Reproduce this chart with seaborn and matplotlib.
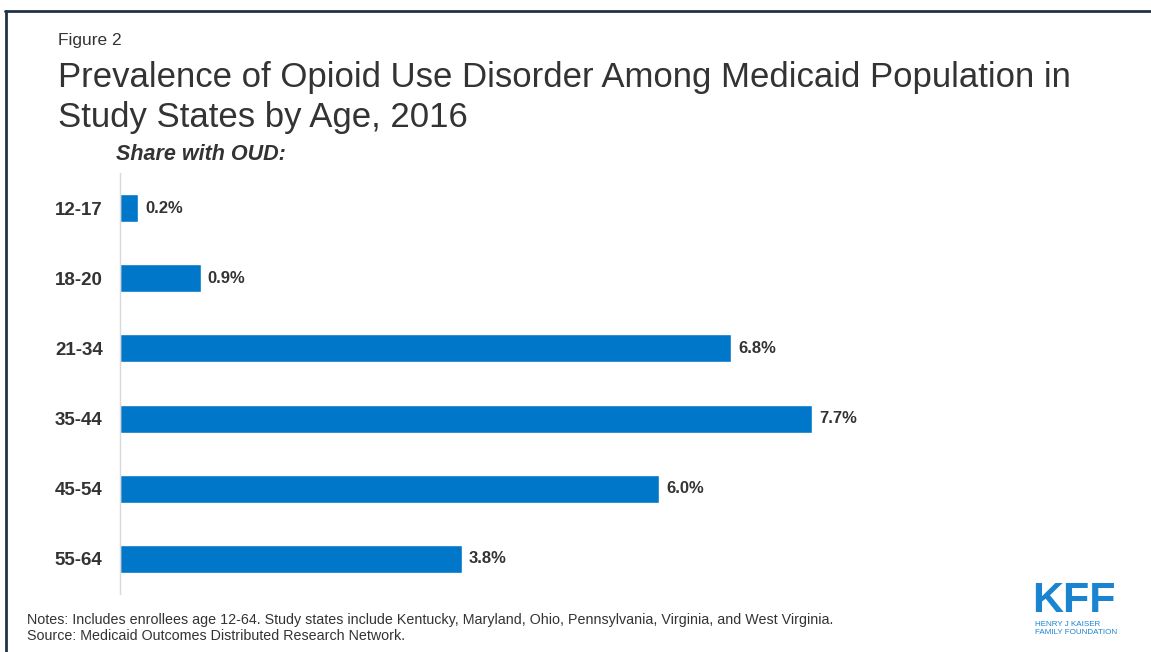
import matplotlib
matplotlib.use("Agg")
import matplotlib.pyplot as plt
import seaborn as sns
import pandas as pd
from matplotlib.lines import Line2D

age_groups = ["12-17", "18-20", "21-34", "35-44", "45-54", "55-64"]
share_oud = [0.2, 0.9, 6.8, 7.7, 6.0, 3.8]
value_labels = ["0.2%", "0.9%", "6.8%", "7.7%", "6.0%", "3.8%"]

df = pd.DataFrame({"age": age_groups, "share": share_oud})

sns.set_theme(style="white")
plt.rcParams["font.family"] = ["Liberation Sans", "DejaVu Sans"]

W, H = 1151, 652
fig = plt.figure(figsize=(W / 100, H / 100), dpi=100)
fig.patch.set_facecolor("white")

ax_left, ax_right, ax_top, ax_bot = 120, 1130, 173, 594
ax = fig.add_axes([ax_left / W, 1 - ax_bot / H, (ax_right - ax_left) / W, (ax_bot - ax_top) / H])

sns.barplot(data=df, x="share", y="age", color="#0077C8", width=0.4, ax=ax,
            saturation=1, orient="h")
ax.set_xlim(0, (ax_right - ax_left) / 89.9)
ax.set_ylim(5.5, -0.5)
ax.set_xlabel("")
ax.set_ylabel("")
ax.set_xticks([])
for s in ["top", "right", "bottom"]:
    ax.spines[s].set_visible(False)
ax.spines["left"].set_color("#d9d9d9")
ax.spines["left"].set_linewidth(1)
ax.tick_params(axis="y", length=0, pad=12.5)
for lab in ax.get_yticklabels():
    lab.set_fontweight("bold")
    lab.set_fontsize(13.5)
    lab.set_color("#333333")

for i, (v, t) in enumerate(zip(share_oud, value_labels)):
    ax.annotate(t, xy=(v, i), xytext=(5, 0), textcoords="offset points",
                va="center", ha="left", fontsize=12, fontweight="bold", color="#333333")

# Titles
fig.text(58 / W, 1 - 40 / H, "Figure 2", fontsize=12.5, color="#333333", va="center", ha="left")
fig.text(58 / W, 1 - 77 / H, "Prevalence of Opioid Use Disorder Among Medicaid Population in",
         fontsize=25, color="#333333", va="center", ha="left")
fig.text(58 / W, 1 - 118 / H, "Study States by Age, 2016",
         fontsize=25, color="#333333", va="center", ha="left")
fig.text(116 / W, 1 - 155 / H, "Share with OUD:", fontsize=15.5, fontweight="bold",
         fontstyle="italic", color="#333333", va="center", ha="left")

# Notes
fig.text(27 / W, 1 - 620 / H,
         "Notes: Includes enrollees age 12-64. Study states include Kentucky, Maryland, Ohio, Pennsylvania, Virginia, and West Virginia.",
         fontsize=10.3, color="#333333", va="center", ha="left")
fig.text(27 / W, 1 - 636 / H, "Source: Medicaid Outcomes Distributed Research Network.",
         fontsize=10.3, color="#333333", va="center", ha="left")

# Logo
fig.text(1074 / W, 1 - 600.5 / H, "KFF", fontsize=31, fontweight="heavy", color="#1a84d0",
         va="center", ha="center")
fig.text(1035 / W, 1 - 624 / H, "HENRY J KAISER", fontsize=5.8, color="#1a84d0",
         va="center", ha="left")
fig.text(1035 / W, 1 - 633 / H, "FAMILY FOUNDATION", fontsize=5.8, color="#1a84d0",
         va="center", ha="left")

# Border
fig.add_artist(Line2D([5.5 / W, 5.5 / W], [0, 1 - 10.5 / H], transform=fig.transFigure,
                      color="#1f3349", linewidth=2))
fig.add_artist(Line2D([4.5 / W, 1], [1 - 10.5 / H, 1 - 10.5 / H], transform=fig.transFigure,
                      color="#1f3349", linewidth=2))

fig.savefig("out.png", dpi=100)
